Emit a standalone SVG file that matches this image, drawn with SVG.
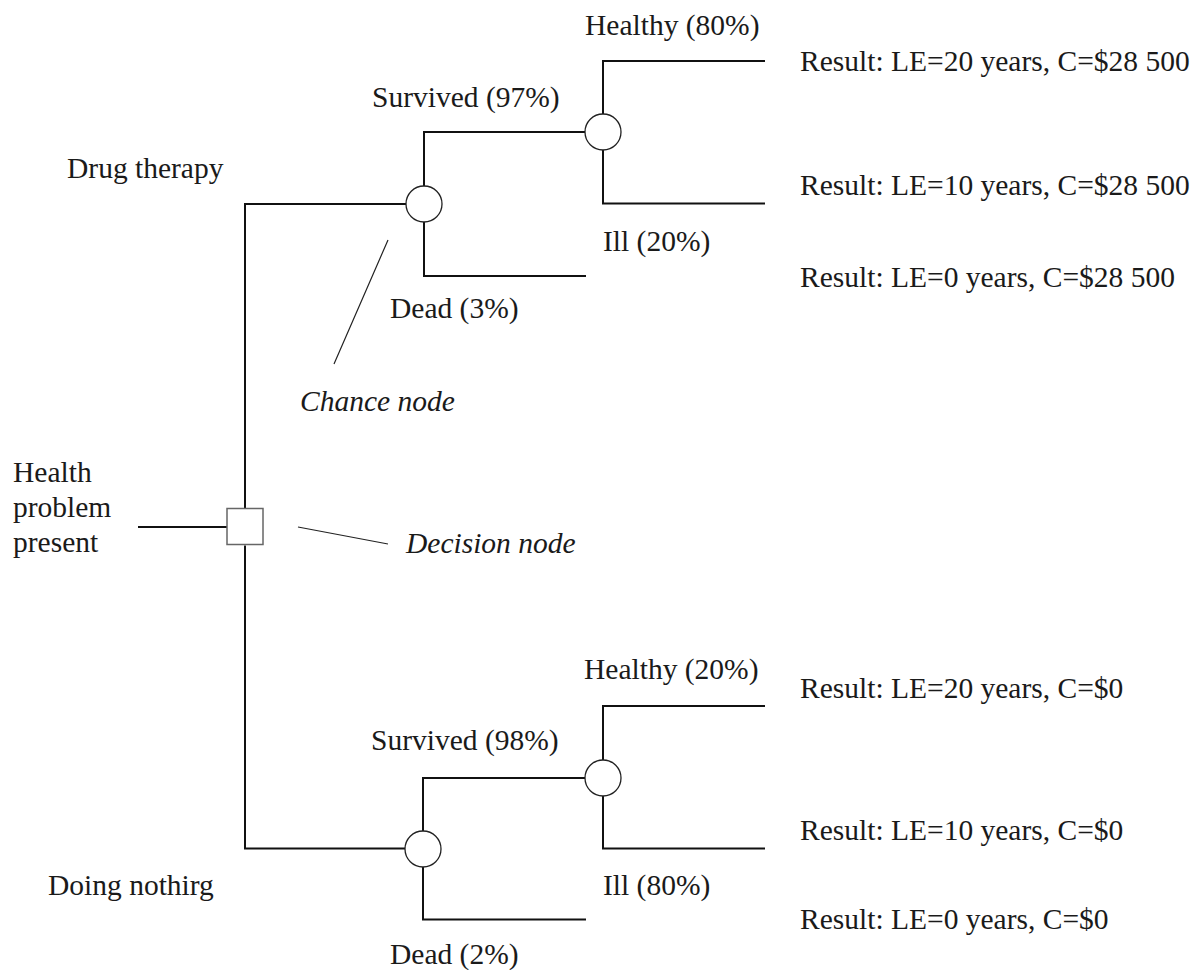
<svg xmlns="http://www.w3.org/2000/svg" width="1203" height="970" viewBox="0 0 1203 970">
<style>
text{font-family:"Liberation Serif","Times New Roman",serif;font-size:29.5px;fill:#1a1a1a}
.it{font-style:italic}
.br{fill:none;stroke:#111;stroke-width:2}
.ptr{fill:none;stroke:#222;stroke-width:1.2}
.chance{fill:#fff;stroke:#222;stroke-width:1.3}
.decision{fill:#fff;stroke:#666;stroke-width:1.5}
</style>
<rect width="1203" height="970" fill="#fff"/>
<g id="connectors">
<path class="br" d="M138 527H227M245 508.5V204H406M245 545.5V848.5H405"/>
<path class="br" d="M424 186V132H585M424 222V276H586"/>
<path class="br" d="M603 114V61H765M603 150V203.5H765"/>
<path class="br" d="M423 831V778H585M423 867V919.5H586"/>
<path class="br" d="M603 760V706H765M603 796V848.5H765"/>
<path class="ptr" d="M388 240L334 364M298 527L388 544"/>
</g>
<g id="decision"><rect class="decision" x="227" y="508.5" width="36" height="36"/></g>
<g id="chance-drug"><circle class="chance" cx="424" cy="204" r="18"/></g>
<g id="chance-drug-survived"><circle class="chance" cx="603" cy="132" r="18"/></g>
<g id="chance-nothing"><circle class="chance" cx="423" cy="849" r="18"/></g>
<g id="chance-nothing-survived"><circle class="chance" cx="603" cy="778" r="18"/></g>
<g id="labels">
<text x="13" y="482">Health</text>
<text x="13" y="517">problem</text>
<text x="13" y="552">present</text>
<text x="67" y="178">Drug therapy</text>
<text x="48" y="895">Doing nothirg</text>
<text x="372" y="107">Survived (97%)</text>
<text x="390" y="318">Dead (3%)</text>
<text x="585" y="35">Healthy (80%)</text>
<text x="603" y="251">Ill (20%)</text>
<text x="371" y="750">Survived (98%)</text>
<text x="390" y="964">Dead (2%)</text>
<text x="584" y="679">Healthy (20%)</text>
<text x="603" y="895">Ill (80%)</text>
<text class="it" x="300" y="411">Chance node</text>
<text class="it" x="406" y="553">Decision node</text>
</g>
<g id="results">
<text x="800" y="71">Result: LE=20 years, C=$28 500</text>
<text x="800" y="195">Result: LE=10 years, C=$28 500</text>
<text x="800" y="287">Result: LE=0 years, C=$28 500</text>
<text x="800" y="698">Result: LE=20 years, C=$0</text>
<text x="800" y="840">Result: LE=10 years, C=$0</text>
<text x="800" y="929">Result: LE=0 years, C=$0</text>
</g>
</svg>
